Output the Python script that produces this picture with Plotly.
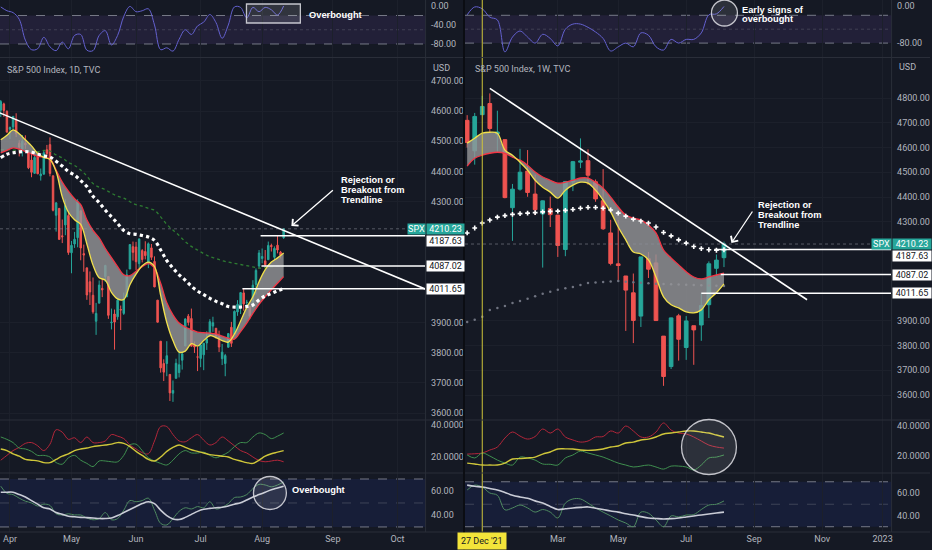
import pandas as pd
import plotly.graph_objects as go

W, H = 932, 550
BG = "#151924"
GRID = "#1c202b"
SEP = "#2a2e39"
TXT = "#b2b5be"
UP, DOWN = "#26a69a", "#ef5350"
NARROW = "Liberation Sans Narrow, Roboto, sans-serif"
BOLD = "Liberation Sans, Arial, sans-serif"


def px(x):
    return x / W


def py(y):
    return 1 - y / H


# ---------------- daily SPX (left chart) ----------------
holidays = ["2022-04-15", "2022-05-30", "2022-06-20", "2022-07-04", "2022-09-05"]
day_dates = [d + pd.Timedelta(hours=12) for d in pd.bdate_range("2022-03-28", "2022-08-10")
             if d.strftime("%Y-%m-%d") not in holidays]
ind_dates = day_dates[1::2]  # indicator readings, every other session

day_open = [4541, 4603, 4624, 4599, 4540, 4548, 4572, 4494, 4475, 4494,
            4463, 4438, 4394, 4449, 4386, 4391, 4472, 4489, 4386, 4255,
            4278, 4187, 4223, 4254,
            4131, 4160, 4181, 4270, 4128, 4081, 4035, 3990, 3904, 3964,
            4013, 4052, 4052, 3899, 3928, 3919, 3943, 3930, 3985, 4077, 4151,
            4150, 4095, 4138, 4135, 4096, 4147, 4102, 3974, 3838, 3764, 3764, 3728, 3666,
            3715, 3734, 3775, 3822, 3921, 3913, 3825, 3786,
            3781, 3793, 3832, 3859, 3888, 3881, 3852, 3780, 3764, 3818,
            3884, 3861, 3935, 3955, 3998, 3966, 3953, 3951, 4026, 4087,
            4112, 4104, 4108, 4155, 4116, 4156, 4133, 4181]
day_high = [4576, 4637, 4628, 4603, 4549, 4584, 4593, 4504, 4521, 4520,
            4464, 4471, 4454, 4460, 4410, 4471, 4488, 4513, 4386, 4299,
            4278, 4241, 4308, 4270,
            4170, 4200, 4308, 4270, 4158, 4081, 4069, 4049, 3965, 4039,
            4046, 4091, 4052, 3946, 3943, 3982, 3956, 3999, 4075, 4158, 4168,
            4167, 4178, 4143, 4169, 4165, 4160, 4119, 3974, 3838, 3778, 3838, 3728, 3708,
            3780, 3802, 3803, 3914, 3928, 3946, 3837, 3819,
            3830, 3832, 3871, 3911, 3919, 3881, 3873, 3829, 3796, 3864,
            3902, 3940, 3974, 3999, 4012, 3975, 3953, 4040, 4079, 4140,
            4145, 4140, 4168, 4161, 4152, 4187, 4137, 4211]
day_low = [4518, 4581, 4581, 4530, 4508, 4539, 4514, 4450, 4450, 4475,
           4408, 4381, 4393, 4391, 4370, 4391, 4449, 4384, 4268, 4201,
           4175, 4163, 4189, 4124,
           4063, 4147, 4149, 4106, 4068, 3975, 3958, 3929, 3859, 3964,
           3984, 4034, 3912, 3877, 3810, 3909, 3875, 3925, 3985, 4077, 4105,
           4074, 4074, 4099, 4109, 4080, 4107, 4017, 3900, 3734, 3706, 3722, 3640, 3637,
           3715, 3718, 3744, 3822, 3890, 3820, 3799, 3739,
           3752, 3742, 3809, 3859, 3869, 3847, 3802, 3759, 3722, 3817,
           3819, 3861, 3922, 3928, 3939, 3943, 3911, 3951, 3993, 4079,
           4096, 4080, 4108, 4135, 4107, 4129, 4112, 4177]
day_close = [4575.5, 4631.6, 4602.5, 4530.4, 4545.9, 4582.6, 4525.1, 4481.2, 4500.2, 4488.3,
             4412.5, 4397.5, 4446.6, 4392.6, 4391.7, 4462.2, 4459.5, 4393.7, 4271.8, 4296.1,
             4175.2, 4184.0, 4287.5, 4131.9,
             4155.4, 4175.5, 4300.2, 4146.9, 4123.3, 3991.2, 4001.1, 3935.2, 3930.1, 4023.9,
             4008.0, 4088.9, 3923.7, 3900.8, 3901.4, 3973.8, 3941.5, 3978.7, 4057.8, 4158.2, 4132.2,
             4101.2, 4176.8, 4108.5, 4121.4, 4160.7, 4115.8, 4017.8, 3900.9, 3749.6, 3735.5, 3790.0, 3666.8, 3674.8,
             3764.8, 3759.9, 3795.7, 3911.7, 3900.1, 3821.6, 3818.8, 3785.4,
             3825.3, 3831.4, 3845.1, 3902.6, 3899.4, 3854.4, 3818.8, 3801.8, 3790.4, 3863.2,
             3830.9, 3936.7, 3959.9, 3999.0, 3961.6, 3966.8, 3921.1, 4023.6, 4072.4, 4130.3,
             4118.6, 4091.2, 4155.2, 4151.9, 4145.2, 4140.1, 4122.5, 4210.23]

ema_fast_d = [4505, 4520, 4538, 4525, 4505, 4485, 4460, 4447, 4440, 4400,
              4316, 4265, 4240, 4225, 4160, 4090, 4048, 4040, 4000, 3978,
              3976, 4025, 4060, 4088, 4100, 4085, 3990, 3900, 3840, 3802,
              3805, 3830, 3822, 3840, 3856, 3850, 3840, 3835, 3862, 3905,
              3950, 3985, 4035, 4075, 4100, 4114, 4130]
ema_slow_d = [4462, 4470, 4478, 4474, 4466, 4458, 4450, 4447, 4442, 4405,
              4365, 4335, 4310, 4290, 4240, 4205, 4180, 4145, 4115, 4085,
              4058, 4055, 4070, 4085, 4095, 4080, 4030, 3965, 3925, 3898,
              3885, 3876, 3868, 3866, 3865, 3862, 3855, 3848, 3845, 3870,
              3898, 3930, 3960, 3985, 4008, 4030, 4052]
ma_white_d = [4446, 4457, 4462, 4465, 4466, 4464, 4458, 4452, 4448, 4434,
              4418, 4400, 4388, 4370, 4350, 4318, 4297, 4272, 4250, 4228,
              4205, 4194, 4192, 4188, 4183, 4172, 4140, 4105, 4080, 4058,
              4040, 4020, 4004, 3992, 3980, 3970, 3962, 3953, 3951, 3951,
              3953, 3958, 3975, 3988, 3996, 4005, 4012]
ma_green_d = [4472, 4472, 4471, 4471, 4470, 4468, 4466, 4470, 4468, 4455,
              4445, 4430, 4420, 4405, 4385, 4360, 4348, 4340, 4328, 4318,
              4312, 4300, 4290, 4285, 4278, 4272, 4250, 4225, 4206, 4188,
              4168, 4152, 4140, 4128, 4118, 4112, 4105, 4100, 4096, 4092,
              4088, 4084, 4080, 4082, 4084, 4086, 4087]
willr_d = [-2, -10, -14, -28, -72, -92, -90, -66, -86, -94,
           -76, -90, -62, -60, -93, -94, -62, -52, -82, -62,
           -22, -1, -12, -10, -6, -40, -92, -88, -95, -70,
           -50, -60, -42, -34, -18, -35, -68, -40, -2, -3,
           -25, -3, -12, -3, -8, -19, 0]
di_minus_d = [18, 21, 24, 26, 28.5, 29, 27, 24, 28, 37,
              35.5, 31, 32, 29, 32.5, 29, 29, 30, 34, 33,
              31.5, 27.5, 25, 22.7, 22, 30, 39, 39, 34, 30,
              29.5, 32, 34, 30.5, 27.5, 29, 32.5, 30, 27, 24,
              22.5, 20, 17.8, 17, 17.5, 18, 17]
di_plus_d = [32.5, 31, 29, 25.6, 25, 23.5, 21, 21, 20, 16.5,
             15.5, 19.5, 21, 18, 16, 14, 17.5, 17.5, 17, 17,
             21, 27.5, 28, 24, 19.5, 17.5, 16, 15, 18, 22,
             24, 22.5, 22.5, 23, 21, 19.5, 21, 23, 26.5, 29,
             29, 32.5, 35, 34, 31.5, 33, 35]
adx_d = [25, 24, 22, 20.5, 18.5, 18, 17.6, 16.5, 16.5, 18.5,
         20.5, 22, 24, 25, 25.6, 26.5, 27, 27.5, 28, 29,
         28.5, 26.5, 23.5, 21, 18.5, 17.5, 20, 23.5, 26, 27.5,
         26, 24.5, 23.5, 22.5, 21.5, 21, 20.5, 20, 18.5, 17.5,
         16.5, 16, 18, 20.5, 22, 23, 24]
rsi_d = [64, 58, 57, 54, 51.5, 50, 47.5, 49, 48, 41,
         40, 41, 40, 40, 37.5, 36, 37, 42, 36, 37,
         44, 52, 51, 52, 54, 44, 33, 31.7, 37, 43,
         46, 45, 47, 46, 51, 45, 46.5, 49.5, 54.5, 55,
         57, 62, 65.5, 65, 63.5, 65, 67.5]
rsi_ma_d = [59, 59, 59, 57, 55, 52, 49, 46, 45, 42,
            40.5, 39, 38.5, 38, 37.8, 37.5, 37, 37, 37.5, 39.5,
            42, 44.5, 47, 49.5, 51, 49.5, 44, 39.5, 36.7, 36.2,
            38, 40.5, 43, 44.7, 45.5, 46, 46.5, 47.5, 49, 50.2,
            52.5, 55, 57, 59, 61, 62.5, 64]

# ---------------- weekly SPX (right chart) ----------------
week_dates = pd.date_range("2021-12-13", periods=35, freq="W-MON")
wk_open = [4710, 4587, 4733, 4778, 4655, 4632, 4357, 4432, 4505, 4412, 4332, 4354, 4327, 4188, 4462,
           4541, 4547, 4462, 4385, 4255, 4130, 4081, 4013, 3919, 4151, 4134, 3838, 3715, 3920,
           3792, 3880, 3883, 3965, 4112, 4155]
wk_high = [4731, 4740, 4809, 4819, 4749, 4632, 4453, 4595, 4590, 4490, 4386, 4402, 4327, 4465, 4546,
           4637, 4593, 4471, 4513, 4308, 4307, 4081, 4091, 4158, 4178, 4168, 3838, 3913, 3928,
           3919, 3880, 4012, 4140, 4168, 4220]
wk_low = [4600, 4531, 4733, 4663, 4582, 4395, 4223, 4426, 4401, 4327, 4115, 4279, 4158, 4161, 4424,
          4517, 4450, 4381, 4267, 4124, 4063, 3859, 3810, 3875, 4073, 3900, 3637, 3705, 3739,
          3742, 3722, 3819, 3911, 4080, 4117]
wk_close = [4620.6, 4725.8, 4766.2, 4677.0, 4662.9, 4397.9, 4431.9, 4500.5, 4418.6, 4348.9, 4384.7,
            4328.9, 4204.3, 4463.1, 4543.1, 4545.9, 4488.3, 4392.6, 4271.8, 4131.9, 4123.3, 4023.9,
            3901.4, 4158.2, 4108.5, 3900.9, 3674.8, 3911.7, 3825.3, 3899.4, 3863.2, 3961.6, 4130.3,
            4145.2, 4210.23]

ema_fast_w = [4618, 4638, 4658, 4662, 4658, 4590, 4569, 4541, 4509, 4468, 4440, 4420, 4396, 4428, 4448,
              4460, 4456, 4428, 4388, 4340, 4279, 4227, 4178, 4170, 4146, 4077, 3997, 3965, 3952,
              3936, 3932, 3944, 3985, 4013, 4049]
ema_slow_w = [4525, 4557, 4569, 4577, 4581, 4577, 4561, 4549, 4529, 4501, 4481, 4468, 4456, 4460, 4468,
              4477, 4477, 4460, 4436, 4400, 4360, 4327, 4315, 4307, 4287, 4255, 4186, 4154, 4126,
              4098, 4077, 4069, 4077, 4085, 4093]
ma_white_w = [4255, 4275, 4295, 4307, 4319, 4325, 4330, 4333, 4335, 4337, 4340, 4342, 4343, 4346, 4350,
              4355, 4358, 4358, 4355, 4348, 4335, 4323, 4311, 4303, 4295, 4279, 4257, 4243, 4227,
              4214, 4200, 4192, 4187, 4185, 4187]
ma_gray_w = [3895, 3904, 3916, 3944, 3952, 3960, 3972, 3980, 3989, 3999, 4009, 4017, 4025, 4031, 4037,
             4045, 4053, 4055, 4057, 4059, 4061, 4058, 4056, 4054, 4052, 4050, 4049, 4048, 4047,
             4046, 4045, 4044, 4043, 4042, 4041]
willr_w = [-19, -2, -6, -24, -30, -99, -67, -54, -67, -80, -61, -70, -86, -50, -39,
           -39, -46, -56, -70, -97, -88, -80, -88, -58, -63, -88, -95, -72, -80,
           -72, -72, -58, -19, -17, -1]
di_minus_w = [21.3, 21.5, 22, 24, 26, 32, 36, 33.3, 31.3, 33, 38, 35.3, 38, 32.7, 30.7,
              29.3, 30, 32.7, 33, 36.7, 35.3, 40, 36.7, 32.7, 32.7, 36, 42, 37.3, 35.3,
              34.7, 32.7, 30, 27.3, 26, 25.3]
di_plus_w = [20.7, 18.7, 22, 20, 17.3, 15.3, 14, 19.3, 18.7, 17.3, 14.7, 14.5, 14, 18.7, 20.7,
             23.3, 22, 20.7, 19.3, 17.3, 15.3, 14, 12.7, 13.3, 14, 12.7, 11.3, 13.3, 13.3,
             12.7, 10.7, 14, 18.7, 19.3, 20.7]
adx_w = [15.3, 14.7, 14, 14, 14, 15.3, 18, 18.3, 18.7, 19.3, 21.3, 22.7, 24.7, 24.8, 24.7,
         24, 23.8, 24, 24.7, 26, 26.7, 28.7, 29.3, 30.7, 31.3, 32.7, 34.7, 35.3, 36,
         36.7, 36.7, 36, 35.3, 34, 32.7]
rsi_w = [62.7, 67, 65.3, 60, 58, 45, 46.7, 49.3, 46.7, 43, 45.3, 43, 37.8, 51, 54.7,
         54.7, 51, 46.7, 43, 39.6, 36, 33.3, 30, 43, 42, 36, 30, 39.6, 38.7,
         40.4, 40.8, 45.3, 49.3, 50, 52.9]
rsi_ma_w = [67, 66, 65.3, 64, 62.7, 60.5, 58, 56.5, 55.3, 53, 51, 48, 45.3, 46, 46.7,
            47.2, 47.6, 46.5, 45.3, 44, 43, 41.5, 40.4, 39, 37.8, 37.3, 36.9, 37.2, 37.8,
            38.7, 39.6, 40.5, 41.3, 42.2, 43]

levels = [4187.63, 4087.02, 4011.65]
last_price = 4210.23

fig = go.Figure()


def line(x, y, ax, color, width=1, **kw):
    fig.add_trace(go.Scatter(x=x, y=y, mode="lines", xaxis="x" + ax, yaxis="y" + ax,
                             line=dict(color=color, width=width, shape="spline", **kw.pop("ln", {})),
                             hoverinfo="skip", **kw))


def candles(x, o, h, l, c, ax):
    fig.add_trace(go.Candlestick(x=x, open=o, high=h, low=l, close=c, xaxis="x" + ax, yaxis="y" + ax,
                                 increasing=dict(line=dict(color=UP, width=1), fillcolor=UP),
                                 decreasing=dict(line=dict(color=DOWN, width=1), fillcolor=DOWN),
                                 whiskerwidth=0, hoverinfo="skip"))


# left: 1 osc, 2 price, 3 dmi, 4 rsi   /   right: 5 osc, 6 price, 7 dmi, 8 rsi
line(ind_dates, willr_d, "", "#6461d0")
candles(day_dates, day_open, day_high, day_low, day_close, "2")
line(ind_dates, ma_green_d, "2", "#2e7d32", 1.3, ln=dict(dash="dot"))
line(ind_dates, ema_slow_d, "2", "#f23645", 1.3)
line(ind_dates, ema_fast_d, "2", "#f2e14c", 1.3, fill="tonexty", fillcolor="rgba(150,150,152,0.8)")
line(ind_dates, ma_white_d, "2", "#ffffff", 3.2, ln=dict(dash="dot"))
line(ind_dates, di_minus_d, "3", "#b3263a")
line(ind_dates, di_plus_d, "3", "#3f8f4f")
line(ind_dates, adx_d, "3", "#cfc63a", 1.4)
line(ind_dates, rsi_d, "4", "#4e8a60")
line(ind_dates, rsi_ma_d, "4", "#c9ccd6", 1.6)

line(week_dates, willr_w, "5", "#6461d0")
candles(week_dates, wk_open, wk_high, wk_low, wk_close, "6")
fig.add_trace(go.Scatter(x=week_dates, y=ma_gray_w, mode="markers", xaxis="x6", yaxis="y6",
                         marker=dict(color="#6f7380", size=2.5), hoverinfo="skip"))
line(week_dates, ema_slow_w, "6", "#f23645", 1.3)
line(week_dates, ema_fast_w, "6", "#f2e14c", 1.3, fill="tonexty", fillcolor="rgba(150,150,152,0.8)")
fig.add_trace(go.Scatter(x=week_dates, y=ma_white_w, mode="markers", xaxis="x6", yaxis="y6",
                         marker=dict(color="white", size=4, symbol="cross"), hoverinfo="skip"))
line(week_dates, di_minus_w, "7", "#b3263a")
line(week_dates, di_plus_w, "7", "#3f8f4f")
line(week_dates, adx_w, "7", "#cfc63a", 1.4)
line(week_dates, rsi_w, "8", "#4e8a60")
line(week_dates, rsi_ma_w, "8", "#c9ccd6", 1.6)

# ---------------- axes ----------------
tickfont = dict(size=9, color=TXT, family=NARROW)
panes = {"osc": [py(57), 1], "main": [py(420), py(58)],
         "dmi": [py(473), py(420)], "rsi": [py(532), py(473)]}

left_x = dict(type="date", domain=[0, px(426)], range=["2022-03-29 06:00", "2022-10-14 12:00"],
              rangebreaks=[dict(bounds=["sat", "mon"]), dict(values=holidays)],
              tickvals=["2022-04-01 12:00", "2022-05-02 12:00", "2022-06-01 12:00", "2022-07-01 12:00",
                        "2022-08-01 12:00", "2022-09-01 12:00", "2022-10-03 12:00"],
              ticktext=["Apr", "May", "Jun", "Jul", "Aug", "Sep", "Oct"],
              showgrid=True, gridcolor=GRID, zeroline=False, showline=False,
              tickfont=tickfont, fixedrange=True, rangeslider=dict(visible=False))
right_x = dict(type="date", domain=[px(466), px(893)], range=["2021-12-11", "2023-01-09 21:00"],
               tickvals=["2022-03-07", "2022-05-02", "2022-07-04", "2022-09-05", "2022-11-07", "2023-01-02"],
               ticktext=["Mar", "May", "Jul", "Sep", "Nov", "2023"],
               showgrid=True, gridcolor=GRID, zeroline=False, showline=False,
               tickfont=tickfont, fixedrange=True, rangeslider=dict(visible=False))

layout = {}
for ax in ["", "2", "3", "4"]:
    layout["xaxis" + ax] = dict(left_x, anchor="y" + ax, showticklabels=(ax == "4"),
                                **({} if ax == "4" else {"matches": "x4"}))
for ax in ["5", "6", "7", "8"]:
    layout["xaxis" + ax] = dict(right_x, anchor="y" + ax, showticklabels=(ax == "8"),
                                **({} if ax == "8" else {"matches": "x8"}))


def yax(ax, pane, rng, vals, text, grid=False):
    layout["yaxis" + ax] = dict(domain=panes[pane], range=rng, anchor="x" + ax, side="right",
                                tickvals=vals, ticktext=text, showgrid=grid, gridcolor=GRID,
                                zeroline=False, showline=False, tickfont=tickfont,
                                ticklabelstandoff=5, fixedrange=True)


# price ticks hidden behind the price tags are left out
price_ticks_l = [3600, 3700, 3800, 3900, 4300, 4400, 4500, 4600, 4700]
price_ticks_r = [3600, 3700, 3800, 3900, 4300, 4400, 4500, 4600, 4700, 4800]
yax("", "osc", [-107.4, 12.6], [0, -40, -80], ["0.00", "-40.00", "-80.00"])
yax("2", "main", [3577, 4776], price_ticks_l, [f"{v}.00" for v in price_ticks_l], True)
yax("3", "dmi", [10, 43.1], [20, 40], ["20.0000", "40.0000"])
yax("4", "rsi", [25.8, 75], [40, 60], ["40.00", "60.00"])
yax("5", "osc", [-110, 13], [0, -80], ["0.00", "-80.00"])
yax("6", "main", [3499, 4962], price_ticks_r, [f"{v}.00" for v in price_ticks_r], True)
yax("7", "dmi", [8.7, 44], [20, 40], ["20.0000", "40.0000"])
yax("8", "rsi", [25.3, 77.8], [40, 60], ["40.00", "60.00"])

# ---------------- shapes ----------------
shapes = []
dash_c = "rgba(150,153,165,0.75)"
for xa, ya in [("x", "y"), ("x5", "y5")]:
    shapes.append(dict(type="rect", xref=xa + " domain", yref=ya, x0=0, x1=1, y0=-80, y1=-20,
                       fillcolor="rgba(126,87,194,0.13)", line_width=0, layer="below"))
    for v, d in [(-20, "dash"), (-80, "dash"), (-50, "dot")]:
        shapes.append(dict(type="line", xref=xa + " domain", yref=ya, x0=0, x1=1, y0=v, y1=v,
                           line=dict(color=dash_c if d == "dash" else "rgba(120,123,134,0.35)",
                                     width=1, dash=d), layer="below"))
for xa, ya in [("x4", "y4"), ("x8", "y8")]:
    shapes.append(dict(type="rect", xref=xa + " domain", yref=ya, x0=0, x1=1, y0=30, y1=70,
                       fillcolor="rgba(41,72,190,0.13)", line_width=0, layer="below"))
    for v in [70, 30, 50]:
        shapes.append(dict(type="line", xref=xa + " domain", yref=ya, x0=0, x1=1, y0=v, y1=v,
                           line=dict(color=dash_c if v != 50 else "rgba(120,123,134,0.4)",
                                     width=1, dash="dash"), layer="below"))

# current price dotted lines
for xa, ya in [("x2", "y2"), ("x6", "y6")]:
    shapes.append(dict(type="line", xref=xa + " domain", yref=ya, x0=0, x1=1, y0=last_price,
                       y1=last_price, line=dict(color="rgba(140,143,155,0.55)", width=1, dash="dot")))

# trendlines
shapes.append(dict(type="line", xref="x2", yref="y2", x0="2022-03-28 12:00", y0=4597,
                   x1="2022-10-14 12:00", y1=4011, line=dict(color="white", width=1.6)))
shapes.append(dict(type="line", xref="x6", yref="y6", x0="2022-01-03", y0=4839,
                   x1="2022-10-24", y1=3985, line=dict(color="white", width=1.6)))

# horizontal price levels
for lvl, start in zip(levels, ["2022-08-01 00:00", "2022-08-01 07:00", "2022-07-22 02:00"]):
    shapes.append(dict(type="line", xref="x2", yref="y2", x0=start, x1="2022-10-14 12:00",
                       y0=lvl, y1=lvl, line=dict(color="white", width=1.5)))
for lvl, start in zip(levels, ["2022-07-30", "2022-08-05", "2022-07-18"]):
    shapes.append(dict(type="line", xref="x6", yref="y6", x0=start, x1="2023-01-09 21:00",
                       y0=lvl, y1=lvl, line=dict(color="white", width=1.5)))

# crosshair on the weekly chart
shapes.append(dict(type="line", xref="x6", yref="paper", x0="2021-12-27", x1="2021-12-27",
                   y0=py(532), y1=1, line=dict(color="#cfc53a", width=1)))

# pane separators
for y in [57.5, 420, 473, 532]:
    for x0, x1 in [(0, 465), (466, 932)]:
        shapes.append(dict(type="line", xref="paper", yref="paper", x0=px(x0), x1=px(x1),
                           y0=py(y), y1=py(y), line=dict(color=SEP, width=1)))
for x in [426.5, 893.5]:
    shapes.append(dict(type="line", xref="paper", yref="paper", x0=px(x), x1=px(x),
                       y0=py(532), y1=1, line=dict(color=SEP, width=1)))
shapes.append(dict(type="line", xref="paper", yref="paper", x0=px(465), x1=px(465), y0=0, y1=1,
                   line=dict(color="#0b0d13", width=2)))

# highlight marks
mark = dict(color="rgba(225,225,230,0.85)", width=1.3)
shapes.append(dict(type="rect", xref="paper", yref="paper", x0=px(247), x1=px(301), y0=py(23),
                   y1=py(4), line=mark, fillcolor="rgba(255,255,255,0.12)"))
for cx, cy, r in [(270.5, 493, 16.5), (726, 13, 13), (710.5, 447, 27.5)]:
    shapes.append(dict(type="circle", xref="paper", yref="paper", x0=px(cx - r), x1=px(cx + r),
                       y0=py(cy + r), y1=py(cy - r), line=mark, fillcolor="rgba(255,255,255,0.1)"))

# ---------------- annotations ----------------
ann = []


def text(x, y, s, size=9, color=TXT, family=NARROW):
    ann.append(dict(xref="paper", yref="paper", x=px(x), y=py(y), text=s, showarrow=False,
                    xanchor="left", yanchor="middle", align="left",
                    font=dict(size=size, color=color, family=family)))


def note(x, y, lines, step=10):
    for k, s in enumerate(lines):
        text(x, y + k * step, "<b>" + s + "</b>", 9.3, "white", BOLD)


def tag(x, y, yref, s, bg, fg, w, shift=0):
    ann.append(dict(xref="paper", yref=yref, x=px(x), y=y, xanchor="left", yanchor="middle",
                    yshift=shift, text=s, showarrow=False, bgcolor=bg, width=w, borderpad=0,
                    align="center", font=dict(size=9, color=fg, family=NARROW)))


text(5, 70, "S&P 500 Index, 1D, TVC")
text(432, 68, "USD")
text(474, 69, "S&P 500 Index, 1W, TVC")
text(899, 67, "USD")
note(308, 15, ["Overbought"])
note(291, 490, ["Overbought"])
note(742, 9.5, ["Early signs of", "overbought"])
note(340, 180, ["Rejection or", "Breakout from", "Trendline"])
note(758, 205, ["Rejection or", "Breakout from", "Trendline"])

for tipx, tipy, ax_, ay_ in [(292, 226, 43, -37), (733, 243, 22, -33)]:
    ann.append(dict(xref="paper", yref="paper", x=px(tipx), y=py(tipy), ax=ax_, ay=ay_, text="",
                    showarrow=True, arrowhead=4, arrowsize=1.3, arrowwidth=1.3, arrowcolor="white"))

tag(408, last_price, "y2", "SPX", UP, "white", 17)
tag(427, last_price, "y2", str(last_price), UP, "white", 37)
tag(873, last_price, "y6", "SPX", UP, "white", 19)
tag(894, last_price, "y6", str(last_price), UP, "white", 38)
for lvl, sl, sr in zip(levels, [-5, 0, 0], [-6, 0, 0]):
    tag(427, lvl, "y2", f"{lvl:.2f}", "white", "#131722", 37, sl)
    tag(894, lvl, "y6", f"{lvl:.2f}", "white", "#131722", 38, sr)

ann.append(dict(xref="x6", yref="paper", x="2021-12-27", y=py(541), text="27 Dec '21",
                showarrow=False, bgcolor="#f3e43a", borderpad=3, yanchor="middle",
                font=dict(size=9, color="#131722", family=NARROW)))

fig.update_layout(width=W, height=H, margin=dict(l=0, r=0, t=0, b=0),
                  paper_bgcolor=BG, plot_bgcolor=BG, showlegend=False, hovermode=False,
                  shapes=shapes, annotations=ann, **layout)

fig.write_html("out.html", config={"displayModeBar": False},
               post_script="document.body.style.margin='0';"
                           "document.body.style.background='" + BG + "';")
